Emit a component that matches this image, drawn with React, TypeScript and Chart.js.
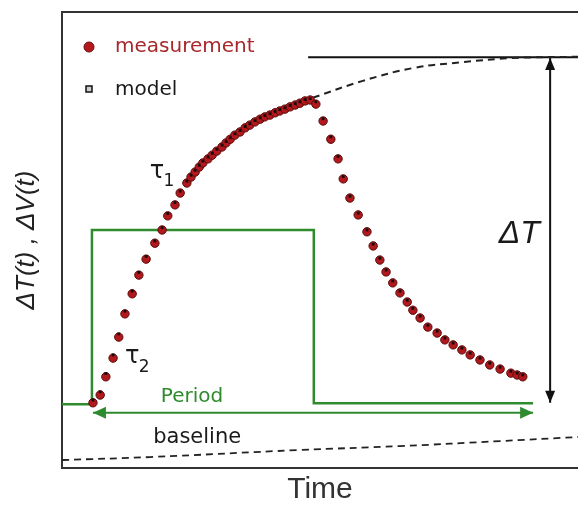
import React, { useEffect, useRef } from "react";
import { Chart, registerables } from "chart.js";

Chart.register(...registerables);

// ---- data (time and signal in arbitrary units, 0..100) ----
const TIME = [6.0, 7.4, 8.5, 9.9, 11.0, 12.2, 13.6, 14.9, 16.3, 18.0, 19.4, 20.5, 21.9, 22.9, 24.2, 25.0, 25.8, 26.6, 27.3, 28.3, 29.1, 30.0, 31.0, 31.8, 32.6, 33.5, 34.5, 35.5, 36.4, 37.4, 38.4, 39.3, 40.3, 41.3, 42.2, 43.2, 44.2, 45.2, 46.1, 47.1, 48.1, 49.2, 50.6, 52.1, 53.5, 54.5, 55.8, 57.4, 59.1, 60.3, 61.6, 62.8, 64.1, 65.5, 66.9, 68.0, 69.4, 70.9, 72.7, 74.2, 75.8, 77.5, 79.1, 81.0, 82.9, 84.9, 87.0, 88.2, 89.3];
const MEASURED = [14.3, 16.0, 20.0, 24.1, 28.7, 33.8, 38.2, 42.3, 45.8, 49.3, 52.2, 55.3, 57.7, 60.3, 62.5, 63.8, 64.9, 66.0, 66.9, 67.8, 68.6, 69.5, 70.4, 71.3, 72.1, 73.0, 73.7, 74.6, 75.2, 75.9, 76.5, 77.0, 77.4, 77.9, 78.3, 78.7, 79.2, 79.6, 80.0, 80.5, 80.7, 79.8, 76.1, 72.1, 67.8, 63.4, 59.2, 55.5, 51.8, 48.7, 45.6, 43.0, 40.6, 38.4, 36.4, 34.6, 32.9, 30.9, 29.6, 28.1, 27.0, 25.9, 24.8, 23.7, 22.6, 21.7, 20.8, 20.4, 20.0];
const MODEL = [14.9, 16.7, 20.7, 24.8, 29.4, 34.4, 38.8, 42.9, 46.4, 49.8, 52.7, 55.8, 58.2, 60.7, 62.9, 64.2, 65.3, 66.4, 67.3, 68.2, 69.0, 69.9, 70.8, 71.6, 72.4, 73.3, 74.0, 74.9, 75.5, 76.2, 76.8, 77.3, 77.7, 78.2, 78.6, 79.0, 79.5, 79.9, 80.3, 80.8, 81.0, 80.3, 76.6, 72.6, 68.3, 63.9, 59.6, 55.9, 52.2, 49.1, 46.0, 43.4, 41.0, 38.8, 36.8, 35.0, 33.3, 31.3, 30.0, 28.5, 27.4, 26.3, 25.2, 24.1, 23.0, 22.1, 21.2, 20.8, 20.4];

const PULSE_T = [0, 5.8, 5.8, 48.8, 48.8, 91.3];
const PULSE_Y = [14.0, 14.0, 52.2, 52.2, 14.2, 14.2];

const PERIOD_T = [6.0, 91.3];
const PERIOD_Y = [12.1, 12.1];

const BASE_T = [0, 17.1, 46.1, 65.5, 84.9, 100];
const BASE_Y = [1.75, 2.4, 3.95, 4.8, 5.9, 6.8];

const UPPER_T = [48.6, 58.3, 68.0, 77.7, 87.4, 100];
const UPPER_Y = [81.2, 84.9, 87.7, 89.0, 89.9, 90.2];

const ASYM_T = [47.7, 100];
const ASYM_Y = [90.1, 90.1];

const DT_T = [94.6, 94.6];
const DT_Y = [89.9, 14.3];

const LEGEND_LABELS = ["measurement", "model"];
const X_TITLE = "Time";
const Y_TITLE = "ΔT(t) , ΔV(t)";

const GREEN = "#2e8b2e";
const RED = "#b3181c";

const pts = (xs: number[], ys: number[]) => xs.map((x, i) => ({ x, y: ys[i] }));

// text annotations anchored in data units
const LABELS = [
  { text: "Period", x: 25.2, y: 15.6, font: "20px 'DejaVu Sans'", color: GREEN },
  { text: "baseline", x: 26.2, y: 6.6, font: "21px 'DejaVu Sans'", color: "#1a1a1a" },
  { text: "ΔT", x: 88.6, y: 51.3, font: "italic 32px 'Liberation Sans'", color: "#1a1a1a" },
  { text: "τ", x: 18.4, y: 64.9, font: "24px 'DejaVu Sans'", color: "#1a1a1a" },
  { text: "1", x: 20.7, y: 62.9, font: "17px 'DejaVu Sans'", color: "#1a1a1a" },
  { text: "τ", x: 13.6, y: 24.3, font: "24px 'DejaVu Sans'", color: "#1a1a1a" },
  { text: "2", x: 15.9, y: 22.1, font: "17px 'DejaVu Sans'", color: "#1a1a1a" },
];

const arrowHead = (ctx: CanvasRenderingContext2D, tip: { x: number; y: number }, from: { x: number; y: number }, len: number, half: number, color: string) => {
  const ang = Math.atan2(tip.y - from.y, tip.x - from.x);
  ctx.save();
  ctx.fillStyle = color;
  ctx.beginPath();
  ctx.moveTo(tip.x, tip.y);
  ctx.lineTo(tip.x - len * Math.cos(ang) + half * Math.sin(ang), tip.y - len * Math.sin(ang) - half * Math.cos(ang));
  ctx.lineTo(tip.x - len * Math.cos(ang) - half * Math.sin(ang), tip.y - len * Math.sin(ang) + half * Math.cos(ang));
  ctx.closePath();
  ctx.fill();
  ctx.restore();
};

const decorPlugin = {
  id: "decor",
  afterDatasetsDraw(chart: any) {
    const ctx: CanvasRenderingContext2D = chart.ctx;
    const { left, right, top } = chart.chartArea;
    const xs = chart.scales.x;
    const ys = chart.scales.y;

    // top frame line
    ctx.save();
    ctx.strokeStyle = "#333";
    ctx.lineWidth = 2;
    ctx.beginPath();
    ctx.moveTo(left - 1, top);
    ctx.lineTo(right, top);
    ctx.stroke();
    ctx.restore();

    // arrowheads on arrow datasets
    chart.data.datasets.forEach((ds: any, i: number) => {
      if (!ds.arrow) return;
      const meta = chart.getDatasetMeta(i);
      const p = meta.data;
      const a = { x: p[0].x, y: p[0].y };
      const b = { x: p[p.length - 1].x, y: p[p.length - 1].y };
      arrowHead(ctx, a, b, ds.arrow.len, ds.arrow.half, ds.borderColor);
      arrowHead(ctx, b, a, ds.arrow.len, ds.arrow.half, ds.borderColor);
    });

    // text labels
    ctx.save();
    ctx.textAlign = "center";
    ctx.textBaseline = "middle";
    LABELS.forEach((l) => {
      ctx.font = l.font;
      ctx.fillStyle = l.color;
      ctx.fillText(l.text, xs.getPixelForValue(l.x), ys.getPixelForValue(l.y));
    });
    ctx.restore();

    // legend
    ctx.save();
    ctx.textAlign = "left";
    ctx.textBaseline = "middle";
    const lx = left + 27;
    const ly1 = top + 35;
    const ly2 = top + 77;
    ctx.fillStyle = RED;
    ctx.strokeStyle = "#6a0a0a";
    ctx.lineWidth = 1;
    ctx.beginPath();
    ctx.arc(lx, ly1, 5, 0, Math.PI * 2);
    ctx.fill();
    ctx.stroke();
    ctx.fillStyle = "#cfcfcf";
    ctx.fillRect(lx - 3, ly2 - 3, 6, 6);
    ctx.strokeStyle = "#111";
    ctx.lineWidth = 1.5;
    ctx.strokeRect(lx - 3, ly2 - 3, 6, 6);
    ctx.font = "20px 'DejaVu Sans'";
    ctx.fillStyle = "#a8282c";
    ctx.fillText(LEGEND_LABELS[0], left + 53, ly1);
    ctx.fillStyle = "#1a1a1a";
    ctx.fillText(LEGEND_LABELS[1], left + 53, ly2 + 1);
    ctx.restore();
  },
};

export default function App() {
  const ref = useRef<HTMLCanvasElement | null>(null);

  useEffect(() => {
    if (!ref.current) return;
    const lineBase = { pointRadius: 0, fill: false, showLine: true, tension: 0 };
    const chart = new Chart(ref.current, {
      type: "scatter",
      data: {
        datasets: [
          { ...lineBase, label: "pulse", data: pts(PULSE_T, PULSE_Y), borderColor: GREEN, borderWidth: 2.5, order: 5 },
          { ...lineBase, label: "period", data: pts(PERIOD_T, PERIOD_Y), borderColor: GREEN, borderWidth: 2, order: 5, arrow: { len: 13, half: 6 } } as any,
          { ...lineBase, label: "baseline", data: pts(BASE_T, BASE_Y), borderColor: "#222", borderWidth: 1.8, borderDash: [7, 5], tension: 0.4, order: 5 },
          { ...lineBase, label: "saturation", data: pts(UPPER_T, UPPER_Y), borderColor: "#222", borderWidth: 2, borderDash: [7, 5], tension: 0.4, order: 5 },
          { ...lineBase, label: "asymptote", data: pts(ASYM_T, ASYM_Y), borderColor: "#111", borderWidth: 2, order: 5 },
          { ...lineBase, label: "deltaT", data: pts(DT_T, DT_Y), borderColor: "#111", borderWidth: 2, order: 5, arrow: { len: 12, half: 5 } } as any,
          {
            label: LEGEND_LABELS[0],
            data: pts(TIME, MEASURED),
            pointRadius: 4.2,
            pointStyle: "circle",
            backgroundColor: RED,
            borderColor: "#5a0a0a",
            borderWidth: 1,
            showLine: false,
            order: 2,
          },
          {
            label: LEGEND_LABELS[1],
            data: pts(TIME, MODEL),
            pointRadius: 2,
            pointStyle: "rect",
            backgroundColor: "#1a0a0a",
            borderColor: "#1a0a0a",
            borderWidth: 0,
            showLine: false,
            order: 1,
          },
        ],
      },
      options: {
        responsive: false,
        animation: false,
        layout: { autoPadding: false, padding: { top: 12, left: 0, right: 0, bottom: 0 } },
        plugins: { legend: { display: false }, tooltip: { enabled: false } },
        scales: {
          x: {
            type: "linear",
            min: 0,
            max: 100,
            grid: { display: false, drawTicks: false, tickLength: 0 },
            ticks: { display: false },
            border: { display: true, color: "#333", width: 2 },
            title: {
              display: true,
              text: X_TITLE,
              color: "#333",
              font: { family: "'Liberation Sans'", size: 30, lineHeight: 1 },
              padding: { top: 7, bottom: 0 },
            },
          },
          y: {
            type: "linear",
            min: 0,
            max: 100,
            grid: { display: false, drawTicks: false, tickLength: 0 },
            ticks: { display: false },
            border: { display: true, color: "#333", width: 2 },
            title: {
              display: true,
              text: Y_TITLE,
              color: "#222",
              font: { family: "'Liberation Sans'", size: 26, style: "italic", lineHeight: 1 },
              padding: { top: 14, bottom: 22 },
            },
          },
        },
      },
      plugins: [decorPlugin],
    } as any);
    return () => chart.destroy();
  }, []);

  return (
    <div style={{ position: "absolute", left: 0, top: 0, width: 578, height: 505, background: "#fff" }}>
      <canvas ref={ref} width={578} height={505} style={{ display: "block" }} />
    </div>
  );
}
